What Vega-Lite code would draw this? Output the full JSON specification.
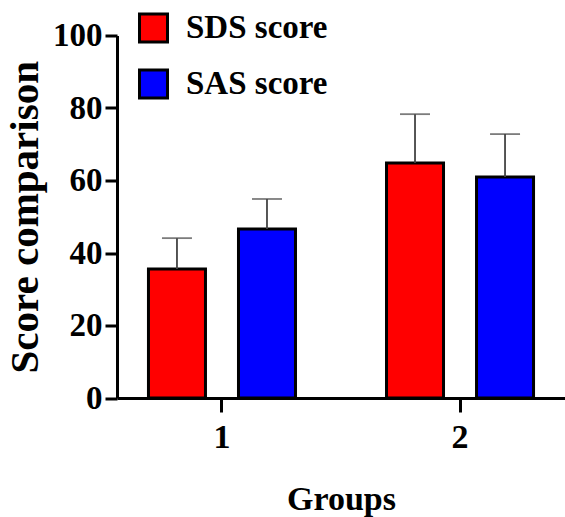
{
  "$schema": "https://vega.github.io/schema/vega-lite/v6.json",
  "width": 448,
  "height": 362.5,
  "autosize": {"type": "none"},
  "padding": {"left": 117, "top": 35.5, "right": 0, "bottom": 119},
  "config": {
    "view": {"stroke": null},
    "font": "Liberation Serif",
    "axis": {
      "labelFont": "Liberation Serif",
      "labelFontWeight": "bold",
      "labelColor": "black",
      "titleFont": "Liberation Serif",
      "titleFontWeight": "bold",
      "titleColor": "black",
      "domainColor": "black",
      "domainWidth": 3,
      "tickColor": "black",
      "tickWidth": 3,
      "grid": false
    }
  },
  "data": {
    "values": [
      {"group": "1", "measure": "SDS score", "mean": 35.6, "upper": 44.1},
      {"group": "1", "measure": "SAS score", "mean": 46.6, "upper": 54.9},
      {"group": "2", "measure": "SDS score", "mean": 64.8, "upper": 78.3},
      {"group": "2", "measure": "SAS score", "mean": 61.0, "upper": 72.8}
    ]
  },
  "encoding": {
    "x": {
      "field": "group",
      "type": "nominal",
      "title": "Groups",
      "scale": {"paddingInner": 0.25, "paddingOuter": 0.066},
      "axis": {"labelAngle": 0, "tickSize": 14, "labelFontSize": 34, "labelPadding": 8, "titleFontSize": 34, "titlePadding": 28}
    },
    "xOffset": {
      "field": "measure",
      "type": "nominal",
      "sort": ["SDS score", "SAS score"],
      "scale": {"paddingInner": 0.3667, "paddingOuter": 0.175}
    }
  },
  "layer": [
    {
      "mark": {"type": "bar", "stroke": "black", "strokeWidth": 3, "opacity": 1},
      "encoding": {
        "y": {
          "field": "mean",
          "type": "quantitative",
          "title": "Score comparison",
          "scale": {"domain": [0, 100]},
          "axis": {"values": [0, 20, 40, 60, 80, 100], "tickSize": 12, "labelFontSize": 33, "labelPadding": 3, "titleFontSize": 41, "titlePadding": 6}
        },
        "color": {
          "field": "measure",
          "type": "nominal",
          "sort": ["SDS score", "SAS score"],
          "scale": {"domain": ["SDS score", "SAS score"], "range": ["#FF0000", "#0000FF"]},
          "legend": {
            "orient": "none",
            "legendX": 20,
            "legendY": -24,
            "title": null,
            "direction": "vertical",
            "symbolType": "square",
            "symbolSize": 784,
            "symbolStrokeColor": "black",
            "symbolStrokeWidth": 3,
            "symbolOpacity": 1,
            "labelFont": "Liberation Serif",
            "labelFontSize": 33,
            "labelFontWeight": "bold",
            "labelColor": "black",
            "labelOffset": 16,
            "rowPadding": 15
          }
        }
      }
    },
    {
      "mark": {"type": "rule", "color": "#444444", "strokeWidth": 1.8},
      "encoding": {
        "y": {"field": "mean", "type": "quantitative", "title": "Score comparison"},
        "y2": {"field": "upper"}
      }
    },
    {
      "mark": {"type": "tick", "color": "#444444", "thickness": 1.8, "size": 30},
      "encoding": {
        "y": {"field": "upper", "type": "quantitative", "title": "Score comparison"}
      }
    }
  ]
}
